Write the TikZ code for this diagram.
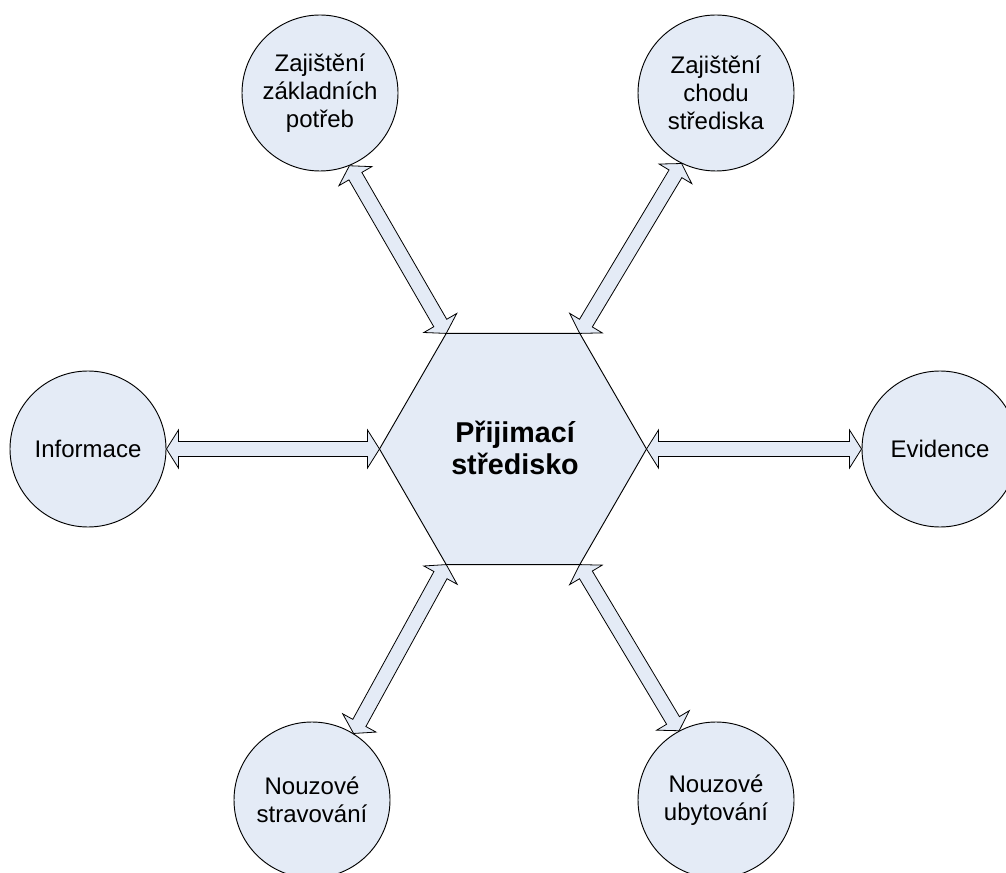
\documentclass[tikz,border=0pt]{standalone}
\usepackage{fontspec}
\setmainfont{Liberation Sans}
\usetikzlibrary{calc}
\definecolor{nodefill}{HTML}{E4EBF6}
\tikzset{
  bubble/.style={circle, draw=black, line width=0.7pt, fill=nodefill,
    minimum size=117pt, inner sep=0pt, align=center,
    font=\fontsize{18}{21}\selectfont},
  hexagonshape/.style={draw=black, line width=0.7pt, fill=nodefill, line join=miter},
  hexlabel/.style={align=center, font=\bfseries\fontsize{21.5}{24.5}\selectfont},
  flexarrow/.style={draw=black, line width=0.6pt, fill=nodefill, line join=miter},
}
\newcommand\flexconnect[2]{%
  \path let \p1=(#1), \p2=(#2) in \pgfextra{%
    \pgfmathsetmacro\faAngle{atan2(\y2-\y1,\x2-\x1)}%
    \pgfmathsetmacro\faLength{veclen(\x2-\x1,\y2-\y1)}%
    \pgfmathsetmacro\faBack{\faLength-9}%
    \xdef\faAng{\faAngle}\xdef\faLen{\faLength}\xdef\faB{\faBack}%
    \xdef\faX{\x1}\xdef\faY{\y1}};
  \draw[flexarrow, shift={(\faX,\faY)}, rotate=\faAng]
    (0pt,0pt) -- (9pt,14.25pt) -- (9pt,5.6pt) -- (\faB pt,5.6pt)
    -- (\faB pt,14.25pt) -- (\faLen pt,0pt) -- (\faB pt,-14.25pt)
    -- (\faB pt,-5.6pt) -- (9pt,-5.6pt) -- (9pt,-14.25pt) -- cycle;
}
\begin{document}
\begin{tikzpicture}[x=0.75pt,y=-0.75pt]
\useasboundingbox (0,0) rectangle (1006,873);
\clip (0,0) rectangle (1006,873);

% central hexagon
\coordinate (hR)  at (646.5,449);
\coordinate (hTR) at (579.75,333.4);
\coordinate (hTL) at (446.25,333.4);
\coordinate (hL)  at (379.5,449);
\coordinate (hBL) at (446.25,564.6);
\coordinate (hBR) at (579.75,564.6);
\draw[hexagonshape] (hR) -- (hTR) -- (hTL) -- (hL) -- (hBL) -- (hBR) -- cycle;
\node[hexlabel] (hex) at (515,448) {Přijimací\\středisko};

% surrounding circles
\node[bubble] (zakl)  at (320,93)  {Zajištění\\základních\\potřeb};
\node[bubble] (chod)  at (716,93)  {Zajištění\\chodu\\střediska};
\node[bubble] (info)  at (88,449)  {Informace};
\node[bubble] (evid)  at (940,449) {Evidence};
\node[bubble] (strav) at (312,800) {Nouzové\\stravování};
\node[bubble] (ubyt)  at (716,800) {Nouzové\\ubytování};

% double arrows
\flexconnect{hTL}{zakl.-68}
\flexconnect{hTR}{chod.-116}
\flexconnect{hL}{info.0}
\flexconnect{hR}{evid.180}
\flexconnect{hBL}{strav.58}
\flexconnect{hBR}{ubyt.118}
\end{tikzpicture}
\end{document}
